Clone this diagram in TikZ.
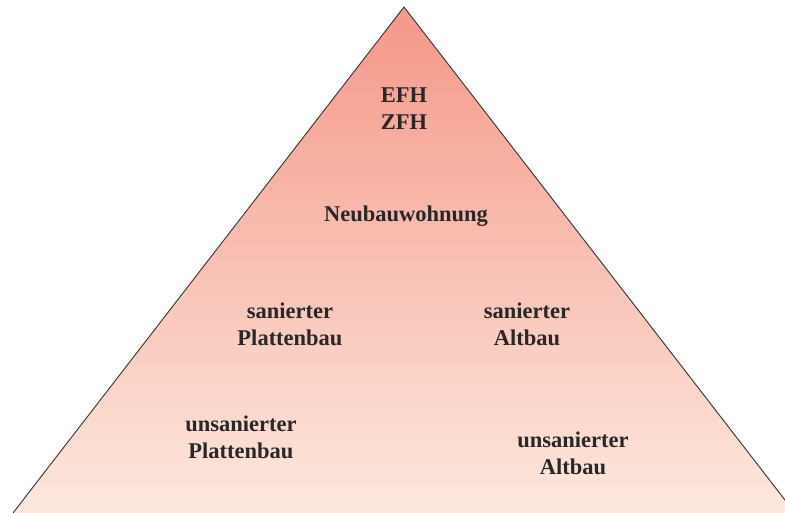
\documentclass[tikz,border=0pt]{standalone}
\usepackage{fontspec}
\setmainfont{Liberation Serif}
\definecolor{topc}{RGB}{244,152,136}
\definecolor{botc}{RGB}{253,232,222}
\definecolor{txt}{RGB}{40,40,40}
\begin{document}
\begin{tikzpicture}[x=1pt,y=1pt,
  lbl/.style={font=\fontsize{22.5}{27}\selectfont\bfseries, text=txt, align=center, inner sep=0pt}]
\useasboundingbox (0,0) rectangle (785,513);
\begin{scope}
\clip (0,0) rectangle (785,513);
\coordinate (apex) at (404,506);
\coordinate (bl) at (13,0);
\coordinate (br) at (795,0);
\shade[top color=topc, bottom color=botc] (apex) -- (bl) -- (br) -- cycle;
\draw[line width=0.9pt, draw=black!80] (bl) -- (apex) -- (br);
\end{scope}
\node[lbl] (efh) at (404,404) {EFH\\ZFH};
\node[lbl] (neu) at (406,297) {Neubauwohnung};
\node[lbl] (sp) at (290,189) {sanierter\\Plattenbau};
\node[lbl] (sa) at (527,189) {sanierter\\Altbau};
\node[lbl] (up) at (241,76) {unsanierter\\Plattenbau};
\node[lbl] (ua) at (573,60) {unsanierter\\Altbau};
\end{tikzpicture}
\end{document}
